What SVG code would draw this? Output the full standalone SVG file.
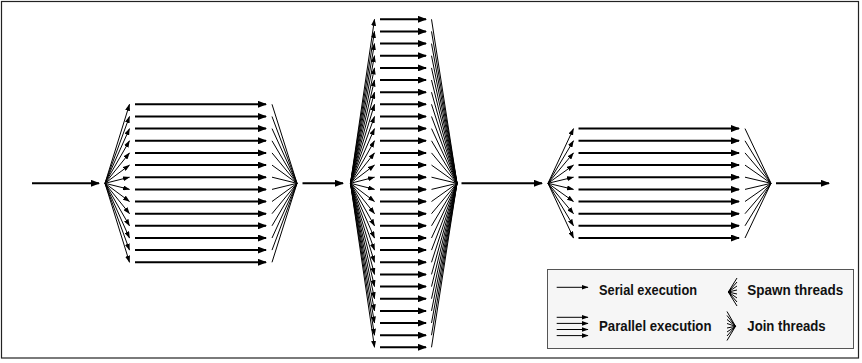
<svg xmlns="http://www.w3.org/2000/svg" width="862" height="363" viewBox="0 0 862 363">
<defs>
<marker id="ah" markerUnits="userSpaceOnUse" markerWidth="9" markerHeight="7" refX="8" refY="3.5" orient="auto"><path d="M0,0L9,3.5L0,7z" fill="#000"/></marker>
<marker id="sh" markerUnits="userSpaceOnUse" markerWidth="7" markerHeight="5" refX="6.5" refY="2.5" orient="auto"><path d="M0,0L7,2.5L0,5z" fill="#000"/></marker>
</defs>
<style>
.sp line{stroke:#000;stroke-width:1;marker-end:url(#sh)}
.pa line{stroke:#000;stroke-width:2;marker-end:url(#ah)}
.jn line{stroke:#000;stroke-width:1}
.se line{stroke:#000;stroke-width:2;marker-end:url(#ah)}
.lg{font-family:"Liberation Sans",Arial,Helvetica,sans-serif;font-weight:bold;font-size:15.5px;fill:#111}
</style>
<rect x="1.5" y="1.5" width="857" height="356.5" fill="#fff" stroke="#222" stroke-width="1.2"/>

<g id="block1">
<g class="sp">
<line x1="105" y1="183.3" x2="129.5" y2="104.3"/><line x1="105" y1="183.3" x2="129.5" y2="116.5"/><line x1="105" y1="183.3" x2="129.5" y2="128.6"/><line x1="105" y1="183.3" x2="129.5" y2="140.8"/><line x1="105" y1="183.3" x2="129.5" y2="152.9"/><line x1="105" y1="183.3" x2="129.5" y2="165.1"/><line x1="105" y1="183.3" x2="129.5" y2="177.2"/><line x1="105" y1="183.3" x2="129.5" y2="189.4"/><line x1="105" y1="183.3" x2="129.5" y2="201.5"/><line x1="105" y1="183.3" x2="129.5" y2="213.7"/><line x1="105" y1="183.3" x2="129.5" y2="225.8"/><line x1="105" y1="183.3" x2="129.5" y2="238"/><line x1="105" y1="183.3" x2="129.5" y2="250.1"/><line x1="105" y1="183.3" x2="129.5" y2="262.3"/>
</g>
<g class="pa">
<line x1="135" y1="104.3" x2="266" y2="104.3"/><line x1="135" y1="116.5" x2="266" y2="116.5"/><line x1="135" y1="128.6" x2="266" y2="128.6"/><line x1="135" y1="140.8" x2="266" y2="140.8"/><line x1="135" y1="152.9" x2="266" y2="152.9"/><line x1="135" y1="165.1" x2="266" y2="165.1"/><line x1="135" y1="177.2" x2="266" y2="177.2"/><line x1="135" y1="189.4" x2="266" y2="189.4"/><line x1="135" y1="201.5" x2="266" y2="201.5"/><line x1="135" y1="213.7" x2="266" y2="213.7"/><line x1="135" y1="225.8" x2="266" y2="225.8"/><line x1="135" y1="238" x2="266" y2="238"/><line x1="135" y1="250.1" x2="266" y2="250.1"/><line x1="135" y1="262.3" x2="266" y2="262.3"/>
</g>
<g class="jn">
<line x1="272" y1="104.3" x2="297" y2="183.3"/><line x1="272" y1="116.5" x2="297" y2="183.3"/><line x1="272" y1="128.6" x2="297" y2="183.3"/><line x1="272" y1="140.8" x2="297" y2="183.3"/><line x1="272" y1="152.9" x2="297" y2="183.3"/><line x1="272" y1="165.1" x2="297" y2="183.3"/><line x1="272" y1="177.2" x2="297" y2="183.3"/><line x1="272" y1="189.4" x2="297" y2="183.3"/><line x1="272" y1="201.5" x2="297" y2="183.3"/><line x1="272" y1="213.7" x2="297" y2="183.3"/><line x1="272" y1="225.8" x2="297" y2="183.3"/><line x1="272" y1="238" x2="297" y2="183.3"/><line x1="272" y1="250.1" x2="297" y2="183.3"/><line x1="272" y1="262.3" x2="297" y2="183.3"/>
</g>
</g>

<g id="block2">
<g class="sp">
<line x1="350.5" y1="183.3" x2="374.5" y2="19.3"/><line x1="350.5" y1="183.3" x2="374.5" y2="31.4"/><line x1="350.5" y1="183.3" x2="374.5" y2="43.6"/><line x1="350.5" y1="183.3" x2="374.5" y2="55.7"/><line x1="350.5" y1="183.3" x2="374.5" y2="67.9"/><line x1="350.5" y1="183.3" x2="374.5" y2="80"/><line x1="350.5" y1="183.3" x2="374.5" y2="92.2"/><line x1="350.5" y1="183.3" x2="374.5" y2="104.3"/><line x1="350.5" y1="183.3" x2="374.5" y2="116.5"/><line x1="350.5" y1="183.3" x2="374.5" y2="128.6"/><line x1="350.5" y1="183.3" x2="374.5" y2="140.8"/><line x1="350.5" y1="183.3" x2="374.5" y2="152.9"/><line x1="350.5" y1="183.3" x2="374.5" y2="165.1"/><line x1="350.5" y1="183.3" x2="374.5" y2="177.2"/><line x1="350.5" y1="183.3" x2="374.5" y2="189.4"/><line x1="350.5" y1="183.3" x2="374.5" y2="201.5"/><line x1="350.5" y1="183.3" x2="374.5" y2="213.7"/><line x1="350.5" y1="183.3" x2="374.5" y2="225.8"/><line x1="350.5" y1="183.3" x2="374.5" y2="238"/><line x1="350.5" y1="183.3" x2="374.5" y2="250.1"/><line x1="350.5" y1="183.3" x2="374.5" y2="262.3"/><line x1="350.5" y1="183.3" x2="374.5" y2="274.4"/><line x1="350.5" y1="183.3" x2="374.5" y2="286.6"/><line x1="350.5" y1="183.3" x2="374.5" y2="298.7"/><line x1="350.5" y1="183.3" x2="374.5" y2="310.9"/><line x1="350.5" y1="183.3" x2="374.5" y2="323"/><line x1="350.5" y1="183.3" x2="374.5" y2="335.2"/><line x1="350.5" y1="183.3" x2="374.5" y2="347.3"/>
</g>
<g class="pa">
<line x1="380" y1="19.3" x2="426" y2="19.3"/><line x1="380" y1="31.4" x2="426" y2="31.4"/><line x1="380" y1="43.6" x2="426" y2="43.6"/><line x1="380" y1="55.7" x2="426" y2="55.7"/><line x1="380" y1="67.9" x2="426" y2="67.9"/><line x1="380" y1="80" x2="426" y2="80"/><line x1="380" y1="92.2" x2="426" y2="92.2"/><line x1="380" y1="104.3" x2="426" y2="104.3"/><line x1="380" y1="116.5" x2="426" y2="116.5"/><line x1="380" y1="128.6" x2="426" y2="128.6"/><line x1="380" y1="140.8" x2="426" y2="140.8"/><line x1="380" y1="152.9" x2="426" y2="152.9"/><line x1="380" y1="165.1" x2="426" y2="165.1"/><line x1="380" y1="177.2" x2="426" y2="177.2"/><line x1="380" y1="189.4" x2="426" y2="189.4"/><line x1="380" y1="201.5" x2="426" y2="201.5"/><line x1="380" y1="213.7" x2="426" y2="213.7"/><line x1="380" y1="225.8" x2="426" y2="225.8"/><line x1="380" y1="238" x2="426" y2="238"/><line x1="380" y1="250.1" x2="426" y2="250.1"/><line x1="380" y1="262.3" x2="426" y2="262.3"/><line x1="380" y1="274.4" x2="426" y2="274.4"/><line x1="380" y1="286.6" x2="426" y2="286.6"/><line x1="380" y1="298.7" x2="426" y2="298.7"/><line x1="380" y1="310.9" x2="426" y2="310.9"/><line x1="380" y1="323" x2="426" y2="323"/><line x1="380" y1="335.2" x2="426" y2="335.2"/><line x1="380" y1="347.3" x2="426" y2="347.3"/>
</g>
<g class="jn">
<line x1="431.5" y1="19.3" x2="457" y2="183.3"/><line x1="431.5" y1="31.4" x2="457" y2="183.3"/><line x1="431.5" y1="43.6" x2="457" y2="183.3"/><line x1="431.5" y1="55.7" x2="457" y2="183.3"/><line x1="431.5" y1="67.9" x2="457" y2="183.3"/><line x1="431.5" y1="80" x2="457" y2="183.3"/><line x1="431.5" y1="92.2" x2="457" y2="183.3"/><line x1="431.5" y1="104.3" x2="457" y2="183.3"/><line x1="431.5" y1="116.5" x2="457" y2="183.3"/><line x1="431.5" y1="128.6" x2="457" y2="183.3"/><line x1="431.5" y1="140.8" x2="457" y2="183.3"/><line x1="431.5" y1="152.9" x2="457" y2="183.3"/><line x1="431.5" y1="165.1" x2="457" y2="183.3"/><line x1="431.5" y1="177.2" x2="457" y2="183.3"/><line x1="431.5" y1="189.4" x2="457" y2="183.3"/><line x1="431.5" y1="201.5" x2="457" y2="183.3"/><line x1="431.5" y1="213.7" x2="457" y2="183.3"/><line x1="431.5" y1="225.8" x2="457" y2="183.3"/><line x1="431.5" y1="238" x2="457" y2="183.3"/><line x1="431.5" y1="250.1" x2="457" y2="183.3"/><line x1="431.5" y1="262.3" x2="457" y2="183.3"/><line x1="431.5" y1="274.4" x2="457" y2="183.3"/><line x1="431.5" y1="286.6" x2="457" y2="183.3"/><line x1="431.5" y1="298.7" x2="457" y2="183.3"/><line x1="431.5" y1="310.9" x2="457" y2="183.3"/><line x1="431.5" y1="323" x2="457" y2="183.3"/><line x1="431.5" y1="335.2" x2="457" y2="183.3"/><line x1="431.5" y1="347.3" x2="457" y2="183.3"/>
</g>
</g>

<g id="block3">
<g class="sp">
<line x1="548" y1="183.3" x2="573.5" y2="128.6"/><line x1="548" y1="183.3" x2="573.5" y2="140.8"/><line x1="548" y1="183.3" x2="573.5" y2="152.9"/><line x1="548" y1="183.3" x2="573.5" y2="165.1"/><line x1="548" y1="183.3" x2="573.5" y2="177.2"/><line x1="548" y1="183.3" x2="573.5" y2="189.4"/><line x1="548" y1="183.3" x2="573.5" y2="201.5"/><line x1="548" y1="183.3" x2="573.5" y2="213.7"/><line x1="548" y1="183.3" x2="573.5" y2="225.8"/><line x1="548" y1="183.3" x2="573.5" y2="238"/>
</g>
<g class="pa">
<line x1="578.5" y1="128.6" x2="739" y2="128.6"/><line x1="578.5" y1="140.8" x2="739" y2="140.8"/><line x1="578.5" y1="152.9" x2="739" y2="152.9"/><line x1="578.5" y1="165.1" x2="739" y2="165.1"/><line x1="578.5" y1="177.2" x2="739" y2="177.2"/><line x1="578.5" y1="189.4" x2="739" y2="189.4"/><line x1="578.5" y1="201.5" x2="739" y2="201.5"/><line x1="578.5" y1="213.7" x2="739" y2="213.7"/><line x1="578.5" y1="225.8" x2="739" y2="225.8"/><line x1="578.5" y1="238" x2="739" y2="238"/>
</g>
<g class="jn">
<line x1="745" y1="128.6" x2="771" y2="183.3"/><line x1="745" y1="140.8" x2="771" y2="183.3"/><line x1="745" y1="152.9" x2="771" y2="183.3"/><line x1="745" y1="165.1" x2="771" y2="183.3"/><line x1="745" y1="177.2" x2="771" y2="183.3"/><line x1="745" y1="189.4" x2="771" y2="183.3"/><line x1="745" y1="201.5" x2="771" y2="183.3"/><line x1="745" y1="213.7" x2="771" y2="183.3"/><line x1="745" y1="225.8" x2="771" y2="183.3"/><line x1="745" y1="238" x2="771" y2="183.3"/>
</g>
</g>

<g id="connectors" class="se">
<line x1="32" y1="183.3" x2="99" y2="183.3"/>
<line x1="302.5" y1="183.3" x2="343" y2="183.3"/>
<line x1="461.5" y1="183.3" x2="542" y2="183.3"/>
<line x1="776" y1="183.3" x2="829" y2="183.3"/>
</g>

<g id="legend">
<rect x="547.5" y="269.5" width="306" height="79" fill="#f6f6f6" stroke="#555" stroke-width="1"/>
<g class="sp">
<line x1="556.7" y1="287.3" x2="588" y2="287.3"/>
<line x1="556.7" y1="317.3" x2="588" y2="317.3"/>
<line x1="556.7" y1="323.4" x2="588" y2="323.4"/>
<line x1="556.7" y1="329.5" x2="588" y2="329.5"/>
<line x1="556.7" y1="335.6" x2="588" y2="335.6"/>
</g>
<g class="jn">
<line x1="728.3" y1="292" x2="737" y2="278"/><line x1="728.3" y1="292" x2="737" y2="282"/><line x1="728.3" y1="292" x2="737" y2="286"/><line x1="728.3" y1="292" x2="737" y2="290"/><line x1="728.3" y1="292" x2="737" y2="294"/><line x1="728.3" y1="292" x2="737" y2="298"/><line x1="728.3" y1="292" x2="737" y2="302"/><line x1="728.3" y1="292" x2="737" y2="306"/>
<line x1="727" y1="311.5" x2="735.5" y2="326.3"/><line x1="727" y1="315.5" x2="735.5" y2="326.3"/><line x1="727" y1="319.5" x2="735.5" y2="326.3"/><line x1="727" y1="323.5" x2="735.5" y2="326.3"/><line x1="727" y1="328" x2="735.5" y2="326.3"/><line x1="727" y1="332" x2="735.5" y2="326.3"/><line x1="727" y1="336" x2="735.5" y2="326.3"/><line x1="727" y1="340.5" x2="735.5" y2="326.3"/>
</g>
<text class="lg" x="599" y="295.3" textLength="98" lengthAdjust="spacingAndGlyphs">Serial execution</text>
<text class="lg" x="599" y="331.3" textLength="112.5" lengthAdjust="spacingAndGlyphs">Parallel execution</text>
<text class="lg" x="747.3" y="295.3" textLength="96" lengthAdjust="spacingAndGlyphs">Spawn threads</text>
<text class="lg" x="747.3" y="331.3" textLength="78.4" lengthAdjust="spacingAndGlyphs">Join threads</text>
</g>
</svg>
